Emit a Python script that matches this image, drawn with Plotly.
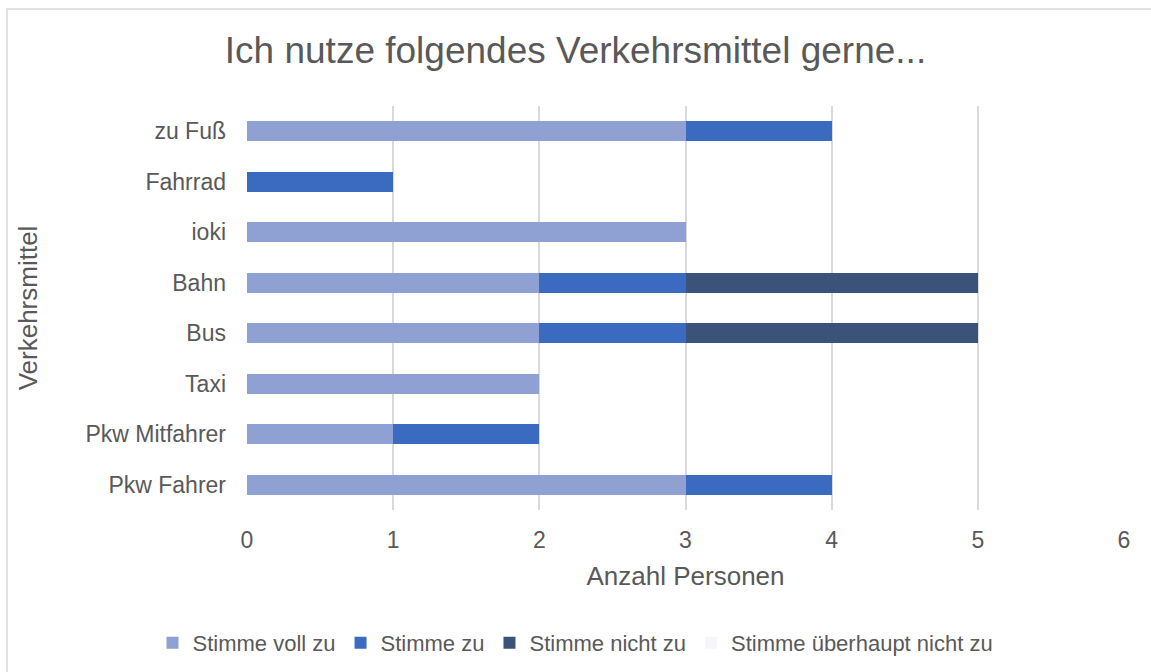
import plotly.graph_objects as go

categories = ["zu Fuß", "Fahrrad", "ioki", "Bahn", "Bus", "Taxi", "Pkw Mitfahrer", "Pkw Fahrer"]
voll_zu = [3, 0, 3, 2, 2, 2, 1, 3]
zu = [1, 1, 0, 1, 1, 0, 1, 1]
nicht_zu = [0, 0, 0, 2, 2, 0, 0, 0]
ueberhaupt_nicht = [0, 0, 0, 0, 0, 0, 0, 0]
series_names = ["Stimme voll zu", "Stimme zu", "Stimme nicht zu", "Stimme überhaupt nicht zu"]
colors = ["#8FA0D2", "#3A6BC0", "#3B5378", "#F4F6FB"]

fig = go.Figure()
for name, vals, col in zip(series_names, [voll_zu, zu, nicht_zu, ueberhaupt_nicht], colors):
    fig.add_trace(go.Bar(
        y=categories, x=vals, name=name, orientation="h",
        marker=dict(color=col, line=dict(width=0)), width=0.4,
    ))

W, H = 1151, 672
L, R, T, B = 247, 27, 106, 162
pw, ph = W - L - R, H - T - B
FONT = "Liberation Sans, Arial, sans-serif"
GREY = "#595959"

fig.update_layout(
    width=W, height=H,
    barmode="stack",
    paper_bgcolor="white", plot_bgcolor="white",
    margin=dict(l=L, r=R, t=T, b=B, autoexpand=False),
    font=dict(family=FONT, color=GREY, size=24),
    title=dict(text="Ich nutze folgendes Verkehrsmittel gerne...", x=0.5, xref="container",
               xanchor="center", y=1 - 50 / H, yref="container", yanchor="middle",
               font=dict(size=37, color=GREY)),
    xaxis=dict(range=[0, 6], dtick=1, showgrid=True, gridcolor="#D9D9D9", gridwidth=1.5,
               zeroline=False, showline=False, ticks="", ticklabelstandoff=14,
               tickfont=dict(size=23, color=GREY),
               title=dict(text="Anzahl Personen", font=dict(size=26, color=GREY), standoff=14)),
    yaxis=dict(autorange="reversed", showgrid=False, zeroline=False, showline=False, ticks="",
               ticklabelstandoff=20, tickfont=dict(size=23, color=GREY),
               title=dict(text="Verkehrsmittel", font=dict(size=26, color=GREY), standoff=40)),
    legend=dict(orientation="h", x=0.5, xref="container", xanchor="center",
                y=1 - 643 / H, yref="container", yanchor="middle", itemwidth=30,
                font=dict(size=22, color=GREY), traceorder="normal"),
    hovermode=False,
    showlegend=True,
)

# chart border (outer frame)
fig.add_shape(type="rect", xref="paper", yref="paper",
              x0=(7 - L) / pw, x1=(W + 20 - L) / pw,
              y0=(H - B - (H + 20)) / ph, y1=(H - B - 9) / ph,
              line=dict(color="#D9D9D9", width=1.5), fillcolor="rgba(0,0,0,0)", layer="below")

fig.write_html("out.html", config={"displayModeBar": False},
               post_script="document.body.style.margin='0';")
